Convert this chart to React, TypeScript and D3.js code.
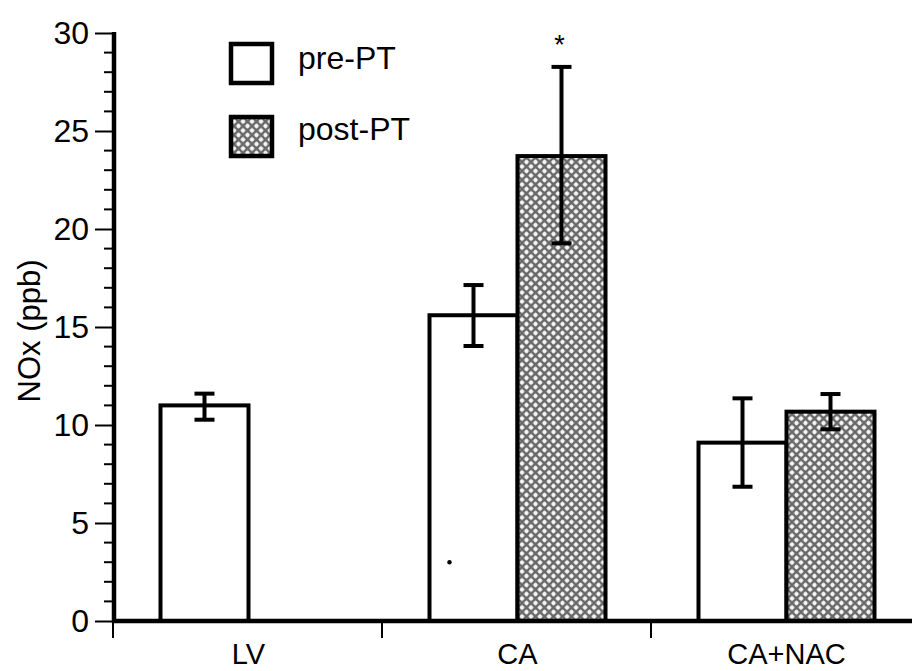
import React, { useRef, useEffect } from 'react'
import * as d3 from 'd3'

// groups and series
const categories = ['LV', 'CA', 'CA+NAC']
const series = ['pre-PT', 'post-PT']

// bar heights (ppb) and error bar ends
const preValues = [11.0, 15.6, 9.1]
const preErrLow = [10.27, 14.03, 6.85]
const preErrHigh = [11.6, 17.14, 11.36]
const postValues = [null, 23.72, 10.68]
const postErrLow = [null, 19.27, 9.78]
const postErrHigh = [null, 28.27, 11.58]

const yTicks = [0, 5, 10, 15, 20, 25, 30]
const yMinorTicks = [1, 2, 3, 4, 6, 7, 8, 9, 11, 12, 13, 14, 16, 17, 18, 19, 21, 22, 23, 24, 26, 27, 28, 29]

const FONT = '"Liberation Sans", Arial, sans-serif'

const App = () => {
  const svgRef = useRef(null)

  const width = 912
  const height = 671
  const axisX = 114
  const axisY = 621
  const barW = 88

  useEffect(() => {
    const svg = d3.select(svgRef.current)
    svg.selectAll('*').remove()

    const y = d3.scaleLinear().domain([0, 30]).range([axisY, 33])
    const x = d3.scaleBand().domain(categories).range([axisX, axisX + 269 * 3])
    const x1 = d3
      .scaleBand()
      .domain(series)
      .range([x.bandwidth() / 2 - barW, x.bandwidth() / 2 + barW])

    // crosshatch fill used for the post-PT bars
    const defs = svg.append('defs')
    const pat = defs
      .append('pattern')
      .attr('id', 'hatch')
      .attr('patternUnits', 'userSpaceOnUse')
      .attr('width', 9)
      .attr('height', 9)
    pat.append('rect').attr('width', 9).attr('height', 9).attr('fill', '#a0a0a0')
    pat
      .append('path')
      .attr('d', 'M0,0L9,9M9,0L0,9')
      .attr('stroke', '#666')
      .attr('stroke-width', 1.6)
    ;[
      [4.5, 0],
      [4.5, 9],
      [0, 4.5],
      [9, 4.5],
    ].forEach(([cx, cy]) => {
      pat.append('circle').attr('cx', cx).attr('cy', cy).attr('r', 1.9).attr('fill', '#f4f4f4')
    })

    const rows = categories.map((c, i) => ({
      cat: c,
      bars: [
        { s: 'pre-PT', v: preValues[i], lo: preErrLow[i], hi: preErrHigh[i] },
        { s: 'post-PT', v: postValues[i], lo: postErrLow[i], hi: postErrHigh[i] },
      ].filter((b) => b.v != null),
    }))

    // bars
    const g = svg.append('g')
    rows.forEach((r) => {
      r.bars.forEach((b) => {
        g.append('rect')
          .attr('x', x(r.cat) + x1(b.s))
          .attr('y', y(b.v))
          .attr('width', barW)
          .attr('height', y(0) - y(b.v))
          .attr('fill', b.s === 'pre-PT' ? '#fff' : 'url(#hatch)')
          .attr('stroke', '#000')
          .attr('stroke-width', 4)
      })
    })

    // error bars
    rows.forEach((r) => {
      r.bars.forEach((b) => {
        const cx = x(r.cat) + x1(b.s) + barW / 2
        g.append('line')
          .attr('x1', cx)
          .attr('x2', cx)
          .attr('y1', y(b.lo))
          .attr('y2', y(b.hi))
          .attr('stroke', '#000')
          .attr('stroke-width', 4)
        ;[b.lo, b.hi].forEach((e) => {
          g.append('line')
            .attr('x1', cx - 10)
            .attr('x2', cx + 10)
            .attr('y1', y(e))
            .attr('y2', y(e))
            .attr('stroke', '#000')
            .attr('stroke-width', 4)
        })
      })
    })

    // significance mark and the stray dot
    svg
      .append('text')
      .attr('x', x('CA') + x1('post-PT') + barW / 2 - 2)
      .attr('y', 54)
      .attr('text-anchor', 'middle')
      .attr('font-family', FONT)
      .attr('font-size', 27)
      .text('*')
    svg
      .append('circle')
      .attr('cx', x('CA') + x1('pre-PT') + 20)
      .attr('cy', y(3))
      .attr('r', 2.2)
      .attr('fill', '#000')

    // y axis
    const yAxis = d3
      .axisLeft(y)
      .tickValues(yTicks)
      .tickSize(18)
      .tickPadding(6)
      .tickFormat(d3.format('d'))
    const ya = svg.append('g').attr('transform', `translate(${axisX - 1},0)`).call(yAxis)
    ya.select('.domain').remove()
    ya.selectAll('.tick line').attr('stroke-width', 2)
    ya.selectAll('.tick text')
      .attr('font-family', FONT)
      .attr('font-size', 32)
      .attr('fill', '#000')
    ya.selectAll('.minor')
      .data(yMinorTicks)
      .join('line')
      .attr('class', 'minor')
      .attr('x1', -9)
      .attr('x2', 0)
      .attr('y1', (d) => y(d))
      .attr('y2', (d) => y(d))
      .attr('stroke', '#000')
      .attr('stroke-width', 2)

    svg
      .append('line')
      .attr('x1', axisX)
      .attr('x2', axisX)
      .attr('y1', y(30) - 1)
      .attr('y2', axisY + 2)
      .attr('stroke', '#000')
      .attr('stroke-width', 4.5)

    // x axis
    svg
      .append('line')
      .attr('x1', axisX - 2)
      .attr('x2', width)
      .attr('y1', axisY)
      .attr('y2', axisY)
      .attr('stroke', '#000')
      .attr('stroke-width', 4.5)
    svg
      .selectAll('.xtick')
      .data(categories)
      .join('line')
      .attr('class', 'xtick')
      .attr('x1', (d) => x(d) - 1)
      .attr('x2', (d) => x(d) - 1)
      .attr('y1', axisY)
      .attr('y2', axisY + 17)
      .attr('stroke', '#000')
      .attr('stroke-width', 2)
    svg
      .selectAll('.xlabel')
      .data(categories)
      .join('text')
      .attr('class', 'xlabel')
      .attr('x', (d) => x(d) + x.bandwidth() / 2)
      .attr('y', 664)
      .attr('text-anchor', 'middle')
      .attr('font-family', FONT)
      .attr('font-size', 29)
      .text((d) => d)

    // y axis title
    svg
      .append('text')
      .attr('transform', 'translate(40,331) rotate(-90)')
      .attr('text-anchor', 'middle')
      .attr('font-family', FONT)
      .attr('font-size', 31)
      .text('NOx (ppb)')

    // legend
    const leg = svg.append('g')
    series.forEach((s, i) => {
      leg
        .append('rect')
        .attr('x', 231)
        .attr('y', 44 + i * 73)
        .attr('width', 41)
        .attr('height', 39)
        .attr('fill', i === 0 ? '#fff' : 'url(#hatch)')
        .attr('stroke', '#000')
        .attr('stroke-width', 4.5)
      leg
        .append('text')
        .attr('x', 298)
        .attr('y', 69 + i * 71)
        .attr('font-family', FONT)
        .attr('font-size', 32)
        .text(s)
    })
  }, [])

  return (
    <svg
      ref={svgRef}
      width={width}
      height={height}
      style={{ position: 'absolute', left: 0, top: 0, background: '#fff' }}
    />
  )
}

export default App
